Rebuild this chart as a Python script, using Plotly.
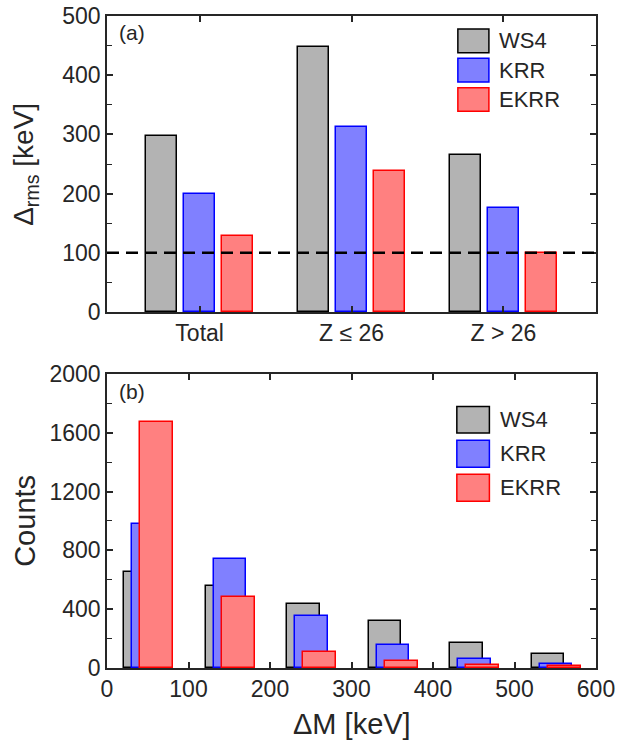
import plotly.graph_objects as go
from plotly.subplots import make_subplots

# ---- data ----
groups = ["Total", "Z ≤ 26", "Z > 26"]
group_pos = [1, 2, 3]
rms_ws4 = [297, 448, 266]
rms_krr = [199, 313, 175]
rms_ekrr = [128, 239, 100]
ref_line = 100

bin_centers = [50, 150, 250, 350, 450, 550]
cnt_ws4 = [652, 557, 435, 317, 172, 93]
cnt_krr = [978, 742, 357, 154, 59, 29]
cnt_ekrr = [1671, 480, 109, 50, 20, 13]

series = ["WS4", "KRR", "EKRR"]
fills = ["#b3b3b3", "#8080ff", "#ff8080"]
edges = ["#000000", "#0000ff", "#ff0000"]

FONT = "Arial, Liberation Sans, sans-serif"
TXT = "#262626"

fig = make_subplots(rows=2, cols=1, vertical_spacing=0.095)

# panel (a)
offs_a = [-0.35, -0.10, 0.15]
for name, vals, fc, ec, off in zip(series, [rms_ws4, rms_krr, rms_ekrr], fills, edges, offs_a):
    fig.add_trace(go.Bar(x=group_pos, y=vals, name=name, width=0.2, offset=off,
                         marker=dict(color=fc, line=dict(color=ec, width=1.5)),
                         showlegend=False), row=1, col=1)

# panel (b)
offs_b = [-29, -19, -9]
for name, vals, fc, ec, off in zip(series, [cnt_ws4, cnt_krr, cnt_ekrr], fills, edges, offs_b):
    fig.add_trace(go.Bar(x=bin_centers, y=vals, name=name, width=40, offset=off,
                         marker=dict(color=fc, line=dict(color=ec, width=1.5)),
                         showlegend=False), row=2, col=1)

axis_common = dict(showline=True, linecolor=TXT, linewidth=1.5, mirror="ticks",
                   ticks="inside", ticklen=6, tickwidth=1.5, tickcolor=TXT,
                   tickfont=dict(family=FONT, size=23, color=TXT),
                   showgrid=False, zeroline=False, automargin=False)

fig.update_layout(
    width=630, height=740,
    margin=dict(l=107, r=34, t=16, b=72),
    paper_bgcolor="white", plot_bgcolor="white",
    barmode="overlay", bargap=0,
    font=dict(family=FONT, color=TXT),
)
fig.update_xaxes(**axis_common)
fig.update_yaxes(**axis_common)

fig.update_layout(
    xaxis=dict(domain=[0, 1], range=[0.39, 3.61], tickvals=group_pos, ticktext=groups),
    yaxis=dict(domain=[0.546, 1.0], range=[0, 500], dtick=100, tick0=0,
               minor=dict(dtick=50, ticks="inside", ticklen=5, tickcolor=TXT, tickwidth=1.2)),
    xaxis2=dict(domain=[0, 1], range=[0, 600], dtick=100, tick0=0),
    yaxis2=dict(domain=[0.0, 0.451], range=[0, 2000], tickvals=[0, 400, 800, 1200, 1600, 2000],
                minor=dict(dtick=200, ticks="inside", ticklen=5, tickcolor=TXT, tickwidth=1.2)),
)

# reference line
fig.add_shape(type="line", xref="x domain", yref="y", x0=0, x1=1, y0=ref_line, y1=ref_line,
              line=dict(color="black", width=2.5, dash="12px,7px"))

# manual legends
leg_a = dict(x0=0.7175, x1=0.781, ys=[(0.876, 0.956), (0.777, 0.857), (0.678, 0.758)], tx=0.797)
leg_b = dict(x0=0.7154, x1=0.782, ys=[(0.7995, 0.889), (0.683, 0.7747), (0.5675, 0.659)], tx=0.8006)
for leg, xr, yr in [(leg_a, "x domain", "y domain"), (leg_b, "x2 domain", "y2 domain")]:
    for name, fc, ec, (y0, y1) in zip(series, fills, edges, leg["ys"]):
        fig.add_shape(type="rect", xref=xr, yref=yr, x0=leg["x0"], x1=leg["x1"], y0=y0, y1=y1,
                      fillcolor=fc, line=dict(color=ec, width=1.5))
        fig.add_annotation(xref=xr, yref=yr, x=leg["tx"], y=(y0 + y1) / 2, text=name,
                           showarrow=False, xanchor="left", yanchor="middle",
                           font=dict(family=FONT, size=22, color=TXT))

# panel labels
fig.add_annotation(xref="x domain", yref="y domain", x=0.02, y=0.9426, text="(a)", showarrow=False,
                   xanchor="left", yanchor="middle", font=dict(family=FONT, size=21, color=TXT))
fig.add_annotation(xref="x2 domain", yref="y2 domain", x=0.02, y=0.94, text="(b)", showarrow=False,
                   xanchor="left", yanchor="middle", font=dict(family=FONT, size=21, color=TXT))

# axis titles
fig.add_annotation(xref="paper", yref="y domain", x=-0.168, y=0.5, text="Δ<sub>rms</sub> [keV]",
                   textangle=-90, showarrow=False, xanchor="center", yanchor="middle",
                   font=dict(family=FONT, size=28, color=TXT))
fig.add_annotation(xref="paper", yref="y2 domain", x=-0.168, y=0.5, text="Counts",
                   textangle=-90, showarrow=False, xanchor="center", yanchor="middle",
                   font=dict(family=FONT, size=29, color=TXT))
fig.add_annotation(xref="paper", yref="paper", x=0.5, y=-0.086, text="ΔM [keV]",
                   showarrow=False, xanchor="center", yanchor="middle",
                   font=dict(family=FONT, size=29, color=TXT))

fig.write_html("out.html", config={"displayModeBar": False},
               post_script="document.body.style.margin='0';document.body.style.overflow='hidden';")
